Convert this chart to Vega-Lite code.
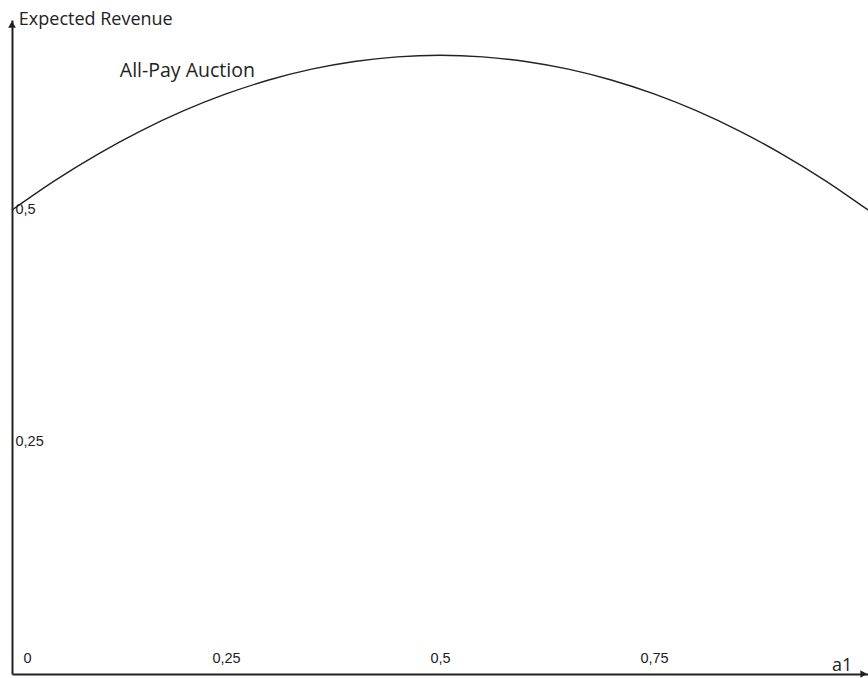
{
  "$schema": "https://vega.github.io/schema/vega-lite/v6.json",
  "width": 856,
  "height": 654,
  "autosize": "none",
  "padding": {"left": 12, "top": 20, "right": 0, "bottom": 4},
  "background": "white",
  "config": {"view": {"stroke": null}},
  "layer": [
    {
      "data": {"values": [
        {"a": 0, "rev": 0.5},
        {"a": 0.05, "rev": 0.5317},
        {"a": 0.1, "rev": 0.56},
        {"a": 0.15, "rev": 0.585},
        {"a": 0.2, "rev": 0.6067},
        {"a": 0.25, "rev": 0.625},
        {"a": 0.3, "rev": 0.64},
        {"a": 0.35, "rev": 0.6517},
        {"a": 0.4, "rev": 0.66},
        {"a": 0.45, "rev": 0.665},
        {"a": 0.5, "rev": 0.6667},
        {"a": 0.55, "rev": 0.665},
        {"a": 0.6, "rev": 0.66},
        {"a": 0.65, "rev": 0.6517},
        {"a": 0.7, "rev": 0.64},
        {"a": 0.75, "rev": 0.625},
        {"a": 0.8, "rev": 0.6067},
        {"a": 0.85, "rev": 0.585},
        {"a": 0.9, "rev": 0.56},
        {"a": 0.95, "rev": 0.5317},
        {"a": 1, "rev": 0.5}
      ]},
      "mark": {"type": "line", "color": "#222", "strokeWidth": 1.4, "interpolate": "monotone"},
      "encoding": {
        "x": {
          "field": "a", "type": "quantitative",
          "scale": {"domain": [0, 1], "nice": false, "zero": false},
          "axis": {
            "title": null, "grid": false, "ticks": false, "tickSize": 0,
            "values": [0, 0.25, 0.5, 0.75],
            "domainColor": "#222", "domainWidth": 2,
            "labelFont": "Liberation Sans", "labelFontSize": 14.5, "labelColor": "#222",
            "labelBaseline": "bottom", "labelPadding": -9,
            "labelFlush": true, "labelFlushOffset": -11,
            "labelExpr": "replace(format(datum.value, '~g'), '.', ',')"
          }
        },
        "y": {
          "field": "rev", "type": "quantitative",
          "scale": {"domain": [0, 0.7047], "nice": false},
          "axis": {
            "title": null, "grid": false, "ticks": false, "tickSize": 0,
            "values": [0.25, 0.5],
            "domainColor": "#222", "domainWidth": 2,
            "labelFont": "Liberation Sans", "labelFontSize": 14.5, "labelColor": "#222",
            "labelAlign": "left", "labelPadding": -3,
            "labelExpr": "replace(format(datum.value, '~g'), '.', ',')"
          }
        }
      }
    },
    {
      "data": {"values": [
        {"a": 0, "rev": 0.7, "shape": "triangle-up"},
        {"a": 0.995, "rev": 0, "shape": "triangle-right"}
      ]},
      "mark": {"type": "point", "filled": true, "color": "#222", "opacity": 1, "size": 60, "clip": false},
      "encoding": {
        "x": {"field": "a", "type": "quantitative"},
        "y": {"field": "rev", "type": "quantitative"},
        "shape": {"field": "shape", "type": "nominal", "scale": null}
      }
    },
    {
      "data": {"values": [
        {"a": 0.008, "rev": 0.7047, "label": "Expected Revenue", "font": "Open Sans", "size": 18},
        {"a": 0.126, "rev": 0.65, "label": "All-Pay Auction", "font": "Open Sans", "size": 19.5},
        {"a": 0.958, "rev": 0.0086, "label": "a1", "font": "DejaVu Sans", "size": 18}
      ]},
      "mark": {"type": "text", "align": "left", "baseline": "middle", "color": "#222", "font": "Open Sans", "clip": false},
      "encoding": {
        "x": {"field": "a", "type": "quantitative"},
        "y": {"field": "rev", "type": "quantitative"},
        "text": {"field": "label"},
        "font": {"field": "font", "type": "nominal", "scale": null, "legend": null},
        "size": {"field": "size", "type": "quantitative", "scale": null, "legend": null}
      }
    }
  ]
}
